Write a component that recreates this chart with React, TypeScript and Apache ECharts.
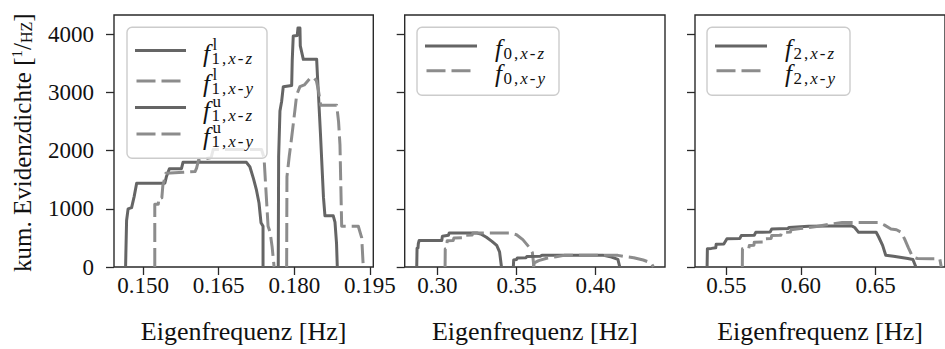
import React, { useEffect, useRef } from 'react';
import * as echarts from 'echarts';

type Pt = [number, number];

// ---- tick labels ----
const p1TickValues = [0.15, 0.165, 0.18, 0.195];
const p2TickValues = [0.3, 0.35, 0.4];
const p3TickValues = [0.55, 0.6, 0.65];
const yTickValues = [0, 1000, 2000, 3000, 4000];

// ---- panel 1: f1 lower / upper ----
const f1LowerXZ: Pt[] = [
  [0.1465, 0], [0.1467, 800], [0.147, 1000], [0.1477, 1020], [0.1482, 1210],
  [0.1487, 1440], [0.1543, 1440], [0.1546, 1550], [0.1552, 1690], [0.1576, 1690],
  [0.1579, 1800], [0.1705, 1800], [0.1712, 1720], [0.1719, 1520], [0.1725, 1320],
  [0.173, 1100], [0.1734, 760], [0.1738, 700], [0.1738, 0],
];
const f1LowerXY: Pt[] = [
  [0.1523, 0], [0.1523, 1080], [0.153, 1080], [0.1531, 1190], [0.1537, 1190],
  [0.1539, 1400], [0.1542, 1500], [0.1545, 1610], [0.158, 1630], [0.1603, 1640],
  [0.1606, 1700], [0.161, 1840], [0.1635, 1880], [0.1639, 2020], [0.1735, 2020],
  [0.174, 1880], [0.1743, 1430], [0.1748, 700], [0.1752, 600], [0.1756, 350], [0.176, 0],
];
const f1UpperXZ: Pt[] = [
  [0.17682, 0], [0.1769, 1900], [0.17716, 2680], [0.1775, 2850], [0.17782, 3100],
  [0.17949, 3120], [0.1796, 3550], [0.1798, 3970], [0.1806, 3980], [0.18074, 4110],
  [0.18113, 4110], [0.1812, 3800], [0.1818, 3570], [0.18445, 3570], [0.1846, 3300],
  [0.18477, 3030], [0.1852, 2300], [0.1858, 1200], [0.1861, 880], [0.18775, 880],
  [0.18809, 770], [0.1884, 400], [0.18855, 0],
];
const f1UpperXY: Pt[] = [
  [0.17849, 0], [0.17855, 1550], [0.179, 1900], [0.17949, 2230], [0.18014, 2700],
  [0.18048, 2960], [0.18113, 3100], [0.182, 3130], [0.18312, 3240], [0.18378, 3260],
  [0.1844, 3200], [0.18477, 3050], [0.18525, 2780], [0.18843, 2780], [0.1888, 2500],
  [0.18908, 2100], [0.18942, 700], [0.19272, 700], [0.1934, 500], [0.19371, 0],
];

// ---- panel 2: f0 (two humps per direction) ----
const f0XZ_a: Pt[] = [
  [0.287, 0], [0.2872, 320], [0.2878, 330], [0.288, 400], [0.2885, 455], [0.3028, 455],
  [0.3032, 530], [0.307, 545], [0.3075, 585], [0.325, 585], [0.328, 560],
  [0.331, 510], [0.3345, 440], [0.3375, 370], [0.3393, 260], [0.3405, 0],
];
const f0XY_a: Pt[] = [
  [0.3049, 0], [0.305, 310], [0.306, 320], [0.3062, 450], [0.31, 455],
  [0.3105, 500], [0.317, 505], [0.3175, 545], [0.322, 550], [0.3225, 585],
  [0.346, 585], [0.35, 555], [0.354, 470], [0.358, 340], [0.36, 250], [0.361, 0],
];
const f0XZ_b: Pt[] = [
  [0.348, 0], [0.3482, 120], [0.35, 130], [0.3505, 155], [0.356, 160], [0.3565, 180],
  [0.365, 185], [0.366, 200], [0.405, 200], [0.41, 170], [0.414, 130], [0.4152, 0],
];
const f0XY_b: Pt[] = [
  [0.3606, 0], [0.3612, 70], [0.364, 110], [0.369, 150], [0.375, 175],
  [0.38, 200], [0.414, 200], [0.418, 180], [0.424, 160], [0.43, 120],
  [0.435, 70], [0.4364, 0],
];

// ---- panel 3: f2 ----
const f2XZ: Pt[] = [
  [0.5371, 0], [0.5373, 315], [0.54, 320], [0.5429, 330], [0.5432, 390],
  [0.5483, 395], [0.5504, 484], [0.559, 490], [0.56, 540], [0.5687, 545],
  [0.5697, 596], [0.5793, 600], [0.5804, 652], [0.5912, 660], [0.592, 680],
  [0.605, 700], [0.634, 708], [0.636, 680], [0.6386, 596], [0.6504, 596],
  [0.652, 520], [0.6547, 371], [0.6568, 202], [0.662, 185], [0.6716, 146],
  [0.675, 130], [0.677, 0],
];
const f2XY: Pt[] = [
  [0.5607, 0], [0.5608, 315], [0.565, 315], [0.5654, 371], [0.5685, 375],
  [0.5687, 427], [0.5748, 430], [0.5751, 484], [0.58, 490], [0.5804, 540],
  [0.5865, 545], [0.5869, 596], [0.593, 600], [0.5933, 641], [0.5997, 660],
  [0.6105, 697], [0.619, 736], [0.6276, 764], [0.6523, 764], [0.656, 720],
  [0.6603, 652], [0.664, 640], [0.667, 600], [0.6694, 484], [0.672, 330],
  [0.6748, 174], [0.678, 146], [0.687, 140], [0.693, 140], [0.694, 0],
];

const FONT = 'Liberation Serif';
const TXT = '#111111';
const DARK = '#656565';
const LIGHT = '#8c8c8c';
const DASH = [19, 6];
const SPINE = '#2a2a2a';

const serif = (size: number, extra: any = {}) => ({
  fontFamily: FONT, fontSize: size, fill: TXT, color: TXT, ...extra,
});

function mathLabel(x: number, y: number, sup: string | null, sub: string[]): any[] {
  const subText = sub.map((t) => (/[xyz]/.test(t) ? `{i|${t}}` : `{r|${t}}`)).join('');
  const els: any[] = [
    {
      type: 'text', x, y: y + 2.5, z: 102,
      style: {
        text: '{f|f}', align: 'left', verticalAlign: 'middle',
        rich: { f: serif(25, { fontStyle: 'italic', lineHeight: 22 }) },
      },
    },
    {
      type: 'text', x: x + 7.5, y: y + 7.5, z: 102,
      style: {
        text: subText, align: 'left', verticalAlign: 'middle',
        rich: {
          r: serif(17, { lineHeight: 11, padding: [0, 1] }),
          i: serif(17, { lineHeight: 11, fontStyle: 'italic', padding: [0, 1] }),
        },
      },
    },
  ];
  if (sup) {
    els.push({
      type: 'text', x: x + 9.5, y: y - 6.5, z: 102,
      style: {
        text: `{s|${sup}}`, align: 'left', verticalAlign: 'middle',
        rich: { s: serif(17, { lineHeight: 11 }) },
      },
    });
  }
  return els;
}

function legendBox(x: number, y: number, w: number, h: number): any {
  return {
    type: 'rect', z: 100,
    shape: { x, y, width: w, height: h, r: 5 },
    style: { fill: 'rgba(255,255,255,0.8)', stroke: '#cccccc', lineWidth: 1.4 },
  };
}

function legendLine(x1: number, x2: number, y: number, dashed: boolean): any {
  return {
    type: 'line', z: 101,
    shape: { x1, y1: y, x2, y2: y },
    style: { stroke: dashed ? LIGHT : DARK, lineWidth: 3, lineDash: dashed ? DASH : null },
  };
}

export default function App() {
  const ref = useRef<HTMLDivElement>(null);

  useEffect(() => {
    const chart = echarts.init(ref.current!, null, { renderer: 'svg' });

    const grids = [
      { left: 114, top: 15, width: 259.3, height: 257 },
      { left: 404.7, top: 15, width: 260.3, height: 257 },
      { left: 695, top: 15, width: 260.3, height: 257 },
    ].map((g) => ({ ...g, show: true, borderColor: SPINE, borderWidth: 1.4, backgroundColor: 'transparent' }));

    const xDefs = [
      { min: 0.1442, max: 0.1957, ticks: p1TickValues, dec: 3 },
      { min: 0.2794, max: 0.44375, ticks: p2TickValues, dec: 2 },
      { min: 0.529, max: 0.6965, ticks: p3TickValues, dec: 2 },
    ];

    const xAxis = xDefs.map((d, i) => ({
      gridIndex: i, type: 'value', min: d.min, max: d.max,
      axisLine: { show: false },
      axisTick: { show: true, length: 8, customValues: d.ticks, lineStyle: { color: SPINE, width: 1.3 } },
      axisLabel: {
        show: true, customValues: d.ticks, margin: 7, fontFamily: FONT, fontSize: 23, color: TXT,
        formatter: (v: number) => v.toFixed(d.dec),
      },
      splitLine: { show: false },
      name: 'Eigenfrequenz [Hz]', nameLocation: 'middle', nameGap: 51,
      nameTextStyle: { fontFamily: FONT, fontSize: 26, color: TXT },
    }));

    const yAxis = [0, 1, 2].map((i) => ({
      gridIndex: i, type: 'value', min: 0, max: 4332,
      axisLine: { show: false },
      axisTick: { show: true, length: 8, customValues: yTickValues, lineStyle: { color: SPINE, width: 1.3 } },
      axisLabel: {
        show: i === 0, customValues: yTickValues, margin: 20, fontFamily: FONT, fontSize: 23, color: TXT,
        formatter: (v: number) => String(Math.round(v)),
      },
      splitLine: { show: false },
    }));

    const mk = (data: Pt[], idx: number, dashed: boolean) => ({
      type: 'line', xAxisIndex: idx, yAxisIndex: idx, data,
      showSymbol: false, symbol: 'none', silent: true, clip: true,
      lineStyle: { color: dashed ? LIGHT : DARK, width: 3, type: dashed ? DASH : 'solid', join: 'round', cap: 'butt' },
      itemStyle: { color: dashed ? LIGHT : DARK },
    });

    const series = [
      mk(f1LowerXZ, 0, false), mk(f1LowerXY, 0, true), mk(f1UpperXZ, 0, false), mk(f1UpperXY, 0, true),
      mk(f0XZ_a, 1, false), mk(f0XY_a, 1, true), mk(f0XZ_b, 1, false), mk(f0XY_b, 1, true),
      mk(f2XZ, 2, false), mk(f2XY, 2, true),
    ];

    const graphics: any[] = [
      {
        type: 'text', x: 22, y: 272, rotation: Math.PI / 2, z: 100,
        style: {
          text: '{a|kum. Evidenzdichte [}{s|1}{a|/}{c|HZ}{a|]}', align: 'left', verticalAlign: 'middle',
          rich: {
            a: serif(25),
            s: serif(15, { verticalAlign: 'top' }),
            c: serif(16, { verticalAlign: 'bottom' }),
          },
        },
      },
      legendBox(127, 27.3, 140, 131),
      legendLine(135, 186, 50.5, false),
      legendLine(136.5, 184.5, 81, true),
      legendLine(135, 186, 107.5, false),
      legendLine(136.5, 184.5, 134, true),
      ...mathLabel(203, 50.5, 'l', ['1', ',', 'x', '-', 'z']),
      ...mathLabel(203, 81, 'l', ['1', ',', 'x', '-', 'y']),
      ...mathLabel(203, 107.5, 'u', ['1', ',', 'x', '-', 'z']),
      ...mathLabel(203, 134, 'u', ['1', ',', 'x', '-', 'y']),
      legendBox(417, 27.3, 142, 68),
      legendLine(425, 477, 46, false),
      legendLine(426.5, 475.5, 70.7, true),
      ...mathLabel(495, 46, null, ['0', ',', 'x', '-', 'z']),
      ...mathLabel(495, 70.7, null, ['0', ',', 'x', '-', 'y']),
      legendBox(707, 27.3, 143, 68),
      legendLine(715, 767, 46, false),
      legendLine(716.5, 765.5, 70.7, true),
      ...mathLabel(785, 46, null, ['2', ',', 'x', '-', 'z']),
      ...mathLabel(785, 70.7, null, ['2', ',', 'x', '-', 'y']),
    ];

    chart.setOption({
      animation: false,
      backgroundColor: '#ffffff',
      textStyle: { fontFamily: FONT, color: TXT },
      grid: grids,
      xAxis,
      yAxis,
      series,
      graphic: { elements: graphics },
    });

    return () => chart.dispose();
  }, []);

  return (
    <div
      ref={ref}
      style={{ position: 'fixed', left: 0, top: 0, width: 945, height: 349, background: '#fff' }}
    />
  );
}
